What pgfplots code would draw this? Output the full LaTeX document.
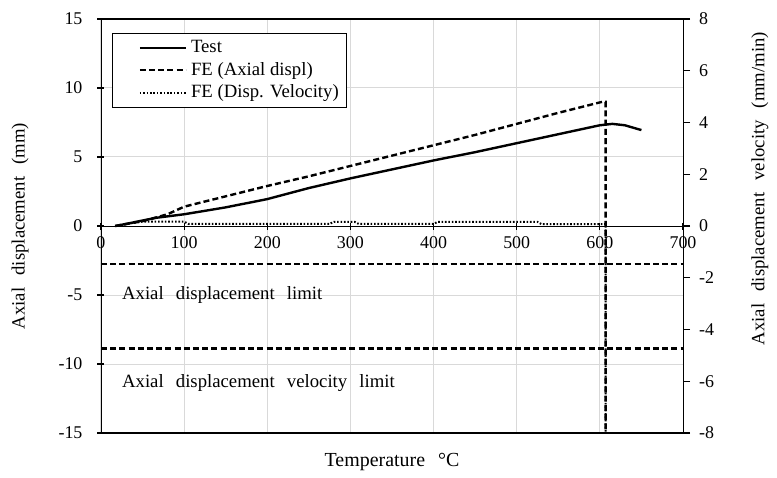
\documentclass[border=0pt]{standalone}
\usepackage{fontspec}
\setmainfont{Liberation Serif}
\usepackage{pgfplots}
\pgfplotsset{compat=1.18}

\newcommand{\fs}{\fontsize{9}{10.5}\selectfont}
\newcommand{\fl}{\fontsize{9.4}{11}\selectfont}
\newcommand{\ws}{\hspace{0.65em}}

\pgfplotsset{
  common/.style={
    scale only axis, width=291bp, height=207bp,
    xmin=0, xmax=700,
    /pgf/number format/assume math mode=true,
    tick label style={font=\fs},
    label style={font=\fl},
    tick align=outside, major tick length=3.5bp,
    tick style={black, line width=0.6bp},
  },
  nolinearrows/.style={
    axis line style={-, black, line width=0.7bp},
    every outer x axis line/.style={-},
    every outer y axis line/.style={-},
    every inner x axis line/.style={-},
    every inner y axis line/.style={-},
  },
  dashline/.style={black, line width=1.2bp, dash pattern=on 3bp off 1.6bp},
  dotline/.style={black, line width=1bp, dash pattern=on 0.8bp off 0.9bp},
}

\begin{document}
\begin{tikzpicture}
\begin{axis}[common,
  ymin=-15, ymax=15,
  axis x line=middle, axis y line=left,
  nolinearrows,
  xtick={0,100,...,700}, ytick={-15,-10,...,15},
  hide obscured x ticks=false, hide obscured y ticks=false,
  grid=major, grid style={black!15, line width=0.5bp},
  yticklabel style={xshift=-4bp},
  xlabel={Temperature\ws{}°C},
  ylabel={Axial\ws{}displacement\ws{}(mm)},
  xlabel style={at={(axis description cs:0.5,-0.07)}, anchor=center},
  ylabel style={at={(axis description cs:-0.139,0.5)}, anchor=center, rotate=0},
  clip=false,
  legend cell align=left,
  legend style={at={(axis description cs:0.019,0.966)}, anchor=north west,
    draw=black, line width=0.6bp, fill=white, font=\fl,
    inner xsep=2bp, inner ysep=1.5bp, row sep=-0.8bp},
  legend image code/.code={\path (0bp,0bp); \draw[#1] (11bp,0bp) -- (34bp,0bp);},
]
\addplot[black, line width=1.2bp] coordinates {
(17,0)(30,0.15)(47,0.36)(67,0.6)(100,0.85)(150,1.35)(200,1.95)(250,2.75)
(300,3.45)(350,4.1)(400,4.75)(450,5.35)(500,6.0)(550,6.65)(600,7.3)
(615,7.4)(630,7.3)(650,6.95)
};
\addlegendentry{Test}
\addplot[dashline] coordinates {
(17,0)(50,0.35)(80,0.85)(100,1.4)(150,2.15)(200,2.9)(250,3.6)(300,4.35)
(350,5.1)(400,5.85)(450,6.6)(500,7.4)(550,8.2)(603,9.0)(607,9.0)(607,-15)
};
\addlegendentry{FE (Axial displ)}
\addlegendimage{dotline}
\addlegendentry{FE (Disp. Velocity)}
\addplot[dashline, forget plot] coordinates {(0,-2.74)(700,-2.74)};
\addplot[dashline, forget plot] coordinates {(0,-8.87)(700,-8.87)};
\node[font=\fl, anchor=west] at (axis cs:17,-5.0) {Axial\ws{}displacement\ws{}limit};
\node[font=\fl, anchor=west] at (axis cs:17,-11.4) {Axial\ws{}displacement\ws{}velocity\ws{}limit};
\draw[black, line width=0.7bp] (rel axis cs:0,1) -- (rel axis cs:1,1);
\draw[black, line width=0.7bp] (rel axis cs:0,0) -- (rel axis cs:1,0);
\path (axis description cs:-0.1735,-0.1039) (axis description cs:1.1615,1.0459);
\end{axis}
\begin{axis}[common,
  ymin=-8, ymax=8,
  axis x line=none, axis y line*=right,
  nolinearrows,
  ytick={-8,-6,...,8},
  yticklabel style={xshift=1bp},
  ylabel={Axial\ws{}displacement\ws{}velocity\ws{}(mm/min)},
  ylabel style={at={(axis description cs:1.132,0.59)}, anchor=center},
]
\addplot[dotline] coordinates {
(20,0)(35,0.1)(50,0.17)(100,0.17)(105,0.08)(275,0.08)(280,0.16)(305,0.16)
(310,0.08)(400,0.08)(405,0.16)(525,0.16)(530,0.07)(607,0.07)(607,-8)
};
\end{axis}
\end{tikzpicture}
\end{document}
